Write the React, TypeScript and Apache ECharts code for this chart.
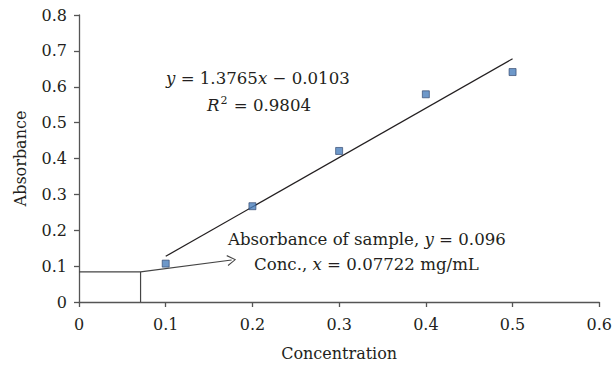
import React, { useEffect, useRef } from "react";
import * as echarts from "echarts";

const concentration = [0.1, 0.2, 0.3, 0.4, 0.5];
const absorbance = [0.107, 0.267, 0.421, 0.579, 0.641];
const slope = 1.3765;
const intercept = -0.0103;
const trendX = [0.1, 0.5];
const guideX = [0, 0.071, 0.071];
const guideY = [0.084, 0.084, 0];
const arrowFrom = [0.071, 0.084];
const arrowTo = [0.176, 0.117];
const xTicks = { min: 0, max: 0.6, interval: 0.1 };
const yTicks = { min: 0, max: 0.8, interval: 0.1 };

const FONT = "DejaVu Serif";
const INK = "#231f20";
const FS = 16;
const AFS = 16.6;

export default function App() {
  const ref = useRef<HTMLDivElement>(null);
  useEffect(() => {
    document.body.style.margin = "0";
    const chart = echarts.init(ref.current!, null, { renderer: "svg" });
    const fmt = (v: number) => (v === 0 ? "0" : String(Math.round(v * 10) / 10));
    const axisCommon = {
      axisLine: { show: true, lineStyle: { color: "#555", width: 1.3 } },
      axisTick: { show: true, inside: false, length: 5, lineStyle: { color: "#555", width: 1.3 } },
      splitLine: { show: false },
      axisLabel: { color: INK, fontFamily: FONT, fontSize: FS, formatter: fmt },
      nameTextStyle: { color: INK, fontFamily: FONT, fontSize: FS },
    };
    const it = { fontStyle: "italic", fontFamily: FONT, fontSize: AFS, fill: INK };
    chart.setOption({
      animation: false,
      grid: { left: 79, right: 11, top: 15, bottom: 69 },
      xAxis: {
        type: "value",
        ...xTicks,
        ...axisCommon,
        name: "Concentration",
        nameLocation: "middle",
        nameGap: 43,
        axisLabel: { ...axisCommon.axisLabel, margin: 14 },
      },
      yAxis: {
        type: "value",
        ...yTicks,
        ...axisCommon,
        name: "Absorbance",
        nameLocation: "middle",
        nameGap: 51,
        axisLabel: { ...axisCommon.axisLabel, margin: 12 },
      },
      series: [
        {
          type: "line",
          data: trendX.map((x) => [x, slope * x + intercept]),
          symbol: "none",
          lineStyle: { color: INK, width: 1.2 },
          z: 2,
        },
        {
          type: "line",
          data: guideX.map((x, i) => [x, guideY[i]]),
          symbol: "none",
          lineStyle: { color: "#444", width: 1.2 },
          markLine: {
            silent: true,
            symbol: ["none", "path://M0,10 L5,0 L10,10 L9,10.6 L5,2 L1,10.6 Z"],
            symbolSize: [11, 9],
            label: { show: false },
            lineStyle: { color: "#444", width: 1.2, type: "solid" },
            data: [[{ coord: arrowFrom }, { coord: arrowTo }]],
          },
          z: 2,
        },
        {
          type: "scatter",
          data: concentration.map((x, i) => [x, absorbance[i]]),
          symbol: "rect",
          symbolSize: 7,
          itemStyle: { color: "#4a7ebb", borderColor: "#2a3f66", borderWidth: 0.8 },
          z: 3,
        },
      ],
      graphic: [
        {
          type: "text",
          left: 166,
          top: 70,
          style: { text: "{i|y} = 1.3765{i|x} − 0.0103", fill: INK, font: `${AFS}px ${FONT}`, rich: { i: it } },
        },
        {
          type: "text",
          left: 207,
          top: 95,
          style: {
            text: "{i|R}{s|2} = 0.9804",
            fill: INK,
            font: `${AFS}px ${FONT}`,
            rich: {
              i: it,
              s: { fontFamily: FONT, fontSize: 11, fill: INK, verticalAlign: "top", padding: [0, 1, 9, 1] },
            },
          },
        },
        {
          type: "text",
          left: 228,
          top: 231,
          style: { text: "Absorbance of sample, {i|y} = 0.096", fill: INK, font: `${AFS}px ${FONT}`, rich: { i: it } },
        },
        {
          type: "text",
          left: 254,
          top: 256,
          style: { text: "Conc., {i|x} = 0.07722 mg/mL", fill: INK, font: `${AFS}px ${FONT}`, rich: { i: it } },
        },
      ],
    });
    return () => chart.dispose();
  }, []);
  return <div ref={ref} style={{ width: 615, height: 371 }} />;
}
